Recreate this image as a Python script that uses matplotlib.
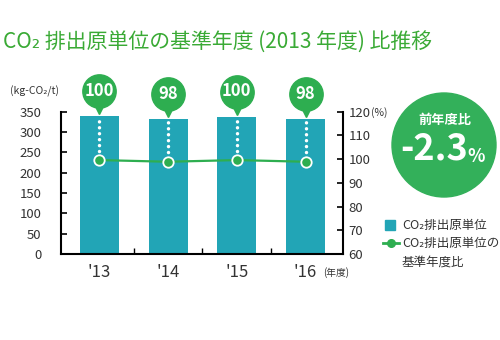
import matplotlib
matplotlib.use("Agg")
import matplotlib.pyplot as plt
from matplotlib.patches import Ellipse, Rectangle
from matplotlib.lines import Line2D
from matplotlib.transforms import offset_copy

plt.rcParams['font.family'] = ['Noto Sans CJK JP', 'DejaVu Sans']

# ---- data ----
years = ["'13", "'14", "'15", "'16"]
intensity = [339, 332, 338, 331]          # kg-CO2/t (left axis)
ratio = [99.6, 98.9, 99.6, 98.9]          # % vs base year (right axis, as drawn)
ratio_labels = ["100", "98", "100", "98"]
left_ticks = [0, 50, 100, 150, 200, 250, 300, 350]
right_ticks = [60, 70, 80, 90, 100, 110, 120]
yoy_text = "-2.3"

BAR = "#22a5b6"
GREEN = "#2eae50"
TITLE_GREEN = "#3aaa35"
TXT = "#333333"

W, H = 500, 340
fig = plt.figure(figsize=(5, 3.4), dpi=100)

def fx(x):
    return x / W

def fy(y):
    return 1 - y / H

ax = fig.add_axes([fx(61), fy(254), fx(343) - fx(61), fy(111.7) - fy(254)])
ax2 = ax.twinx()

xs = list(range(len(years)))
ax.bar(xs, intensity, width=0.57, color=BAR, zorder=2)
ax.set_xlim(-0.56, 3.546)
ax.set_ylim(0, 350)
ax2.set_ylim(60, 120)

ax.set_yticks(left_ticks)
ax2.set_yticks(right_ticks)
ax.set_xticks(xs)
ax.set_xticklabels(years, fontsize=12, color=TXT)
ax.set_xticks([0.5, 1.5, 2.5], minor=True)
ax.tick_params(axis='x', which='major', length=0, pad=7)
ax.tick_params(axis='x', which='minor', direction='in', length=4, width=1)
ax.tick_params(axis='y', direction='in', length=4, width=1.2, labelsize=9.5, colors='black', labelcolor=TXT, pad=14)
ax2.tick_params(axis='y', direction='in', length=4, width=1.2, labelsize=9.5, colors='black', labelcolor=TXT, pad=4)

for a in (ax, ax2):
    a.spines['top'].set_visible(False)
    a.patch.set_visible(False)
ax.spines['right'].set_visible(False)
ax2.spines['left'].set_visible(False)
ax2.spines['bottom'].set_visible(False)
for s in ('left', 'bottom'):
    ax.spines[s].set_linewidth(1.5)
ax2.spines['right'].set_linewidth(1.5)

# dotted white lines from bar top down to ratio marker (in right-axis units)
lo, hi = ax.get_ylim()
lo2, hi2 = ax2.get_ylim()
tops2 = [lo2 + (v - lo) / (hi - lo) * (hi2 - lo2) for v in intensity]
ax2.vlines(xs, [r + 1.5 for r in ratio], [t - 1.0 for t in tops2], colors='white',
           linestyles=(0, (0.01, 1.7)), linewidth=2.5, capstyle='round', zorder=2)

# ratio line
ax2.plot(xs, ratio, color=GREEN, lw=1.6, zorder=4)
ax2.plot(xs, ratio, linestyle='none', marker='o', markersize=7.5,
         markerfacecolor=GREEN, markeredgecolor='white', markeredgewidth=1.3, zorder=5)

# bubbles above each bar
tr_circ = offset_copy(ax.transData, fig=fig, x=0, y=25, units='dots')
tr_tri = offset_copy(ax.transData, fig=fig, x=0, y=7, units='dots')
ax.plot(xs, intensity, linestyle='none', marker='o', markersize=24, color=GREEN,
        transform=tr_circ, clip_on=False, zorder=5)
ax.plot(xs, intensity, linestyle='none', marker='v', markersize=7, color=GREEN,
        transform=tr_tri, clip_on=False, zorder=5)
for x, v, t in zip(xs, intensity, ratio_labels):
    ax.text(x, v, t, transform=offset_copy(ax.transData, fig=fig, x=0, y=25.5, units='dots'),
            ha='center', va='center', color='white', fontsize=12, fontweight='bold',
            zorder=6, clip_on=False)

# title and unit labels
fig.text(fx(3), fy(43), "CO₂ 排出原単位の基準年度 (2013 年度) 比推移", color=TITLE_GREEN,
         fontsize=15, ha='left', va='center')
fig.text(fx(10), fy(91), "(kg-CO₂/t)", color=TXT, fontsize=7.5, ha='left', va='center')
fig.text(fx(371), fy(113), "(%)", color=TXT, fontsize=7.5, ha='left', va='center')
fig.text(fx(323), fy(273), "(年度)", color=TXT, fontsize=7, ha='left', va='center')

# big circle
fig.patches.append(Ellipse((fx(444), fy(145)), width=104 / W, height=104 / H,
                           transform=fig.transFigure, color="#33b05a", zorder=1))
fig.text(fx(445), fy(120), "前年度比", color='white', fontsize=9.5, fontweight='bold',
         ha='center', va='center')
fig.text(fx(434), fy(149), yoy_text, color='white', fontsize=26, fontweight='bold',
         ha='center', va='center')
fig.text(fx(467), fy(157), "%", color='white', fontsize=13, fontweight='bold',
         ha='left', va='center')

# legend (manual)
fig.patches.append(Rectangle((fx(385), fy(230)), 10 / W, 10 / H, transform=fig.transFigure,
                             color=BAR))
fig.text(fx(402), fy(225), "CO₂排出原単位", color=TXT, fontsize=9, ha='left', va='center')
fig.lines.append(Line2D([fx(383), fx(399)], [fy(243), fy(243)], transform=fig.transFigure,
                        color=GREEN, lw=2))
fig.lines.append(Line2D([fx(391)], [fy(243)], transform=fig.transFigure, color=GREEN,
                        marker='o', markersize=5.5, markeredgecolor=GREEN))
fig.text(fx(402), fy(243), "CO₂排出原単位の", color=TXT, fontsize=9, ha='left', va='center')
fig.text(fx(402), fy(262), "基準年度比", color=TXT, fontsize=9, ha='left', va='center')

fig.savefig("out.png", dpi=100)
